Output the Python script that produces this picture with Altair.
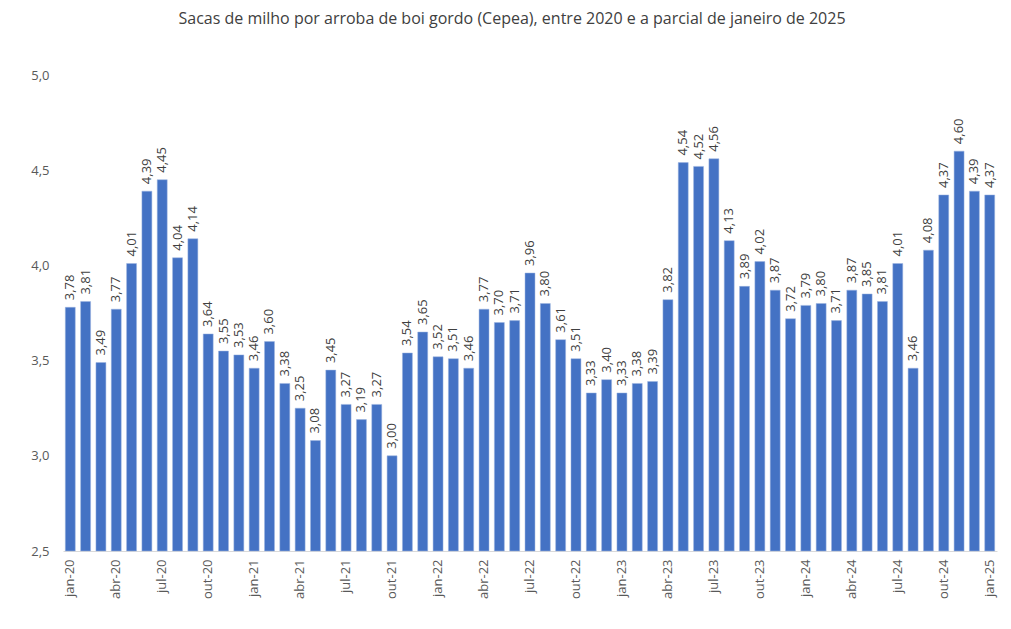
import altair as alt
import pandas as pd

months = ["jan", "fev", "mar", "abr", "mai", "jun", "jul", "ago", "set", "out", "nov", "dez"]
periods = [f"{m}-{y}" for y in ["20", "21", "22", "23", "24"] for m in months] + ["jan-25"]

values = [
    3.78, 3.81, 3.49, 3.77, 4.01, 4.39, 4.45, 4.04, 4.14, 3.64, 3.55, 3.53,
    3.46, 3.60, 3.38, 3.25, 3.08, 3.45, 3.27, 3.19, 3.27, 3.00, 3.54, 3.65,
    3.52, 3.51, 3.46, 3.77, 3.70, 3.71, 3.96, 3.80, 3.61, 3.51, 3.33, 3.40,
    3.33, 3.38, 3.39, 3.82, 4.54, 4.52, 4.56, 4.13, 3.89, 4.02, 3.87, 3.72,
    3.79, 3.80, 3.71, 3.87, 3.85, 3.81, 4.01, 3.46, 4.08, 4.37, 4.60, 4.39,
    4.37,
]

tick_labels = periods[::3]

df = pd.DataFrame({"periodo": periods, "valor": values})

FONT = "Open Sans"
GRAY = "#595959"

x = alt.X(
    "periodo:N",
    sort=periods,
    scale=alt.Scale(paddingInner=0.35, paddingOuter=0.15),
    axis=alt.Axis(
        title=None,
        values=tick_labels,
        labelAngle=270,
        labelFontSize=13,
        labelColor=GRAY,
        labelFont=FONT,
        labelPadding=8,
        ticks=False,
        grid=False,
        domainColor="#D9D9D9",
        domainWidth=1,
        labelAlign="right",
        labelBaseline="middle",
    ),
)
y = alt.Y(
    "valor:Q",
    scale=alt.Scale(domain=[2.5, 5.0], zero=False, clamp=True),
    axis=alt.Axis(
        title=None,
        values=[2.5, 3.0, 3.5, 4.0, 4.5, 5.0],
        labelExpr="replace(format(datum.value, '.1f'), '.', ',')",
        labelFontSize=13,
        labelColor=GRAY,
        labelFont=FONT,
        labelPadding=14,
        ticks=False,
        domain=False,
        grid=False,
    ),
)

base = alt.Chart(df).encode(x=x, y=y)

bars = base.mark_bar(color="#4472C4", stroke="#9DB5E0", strokeWidth=0.5)

labels = base.transform_calculate(
    rotulo="replace(format(datum.valor, '.2f'), '.', ',')"
).mark_text(
    angle=270,
    align="left",
    baseline="middle",
    dx=7,
    fontSize=13,
    font=FONT,
    color="#404040",
).encode(text="rotulo:N")

chart = (
    (bars + labels)
    .properties(
        width=934,
        height=476,
        background="white",
        title=alt.TitleParams(
            "Sacas de milho por arroba de boi gordo (Cepea), entre 2020 e a parcial de janeiro de 2025",
            fontSize=16,
            font=FONT,
            fontWeight="normal",
            color="#404040",
            anchor="middle",
            offset=42,
            dx=-18,
        ),
        autosize=alt.AutoSizeParams(type="none"),
        padding={"left": 55, "top": 67, "right": 5, "bottom": 70},
    )
    .configure_view(strokeWidth=0, stroke="transparent")
    .configure_axis(grid=False)
)

chart.save("out.html", embed_options={"renderer": "svg", "actions": False})
